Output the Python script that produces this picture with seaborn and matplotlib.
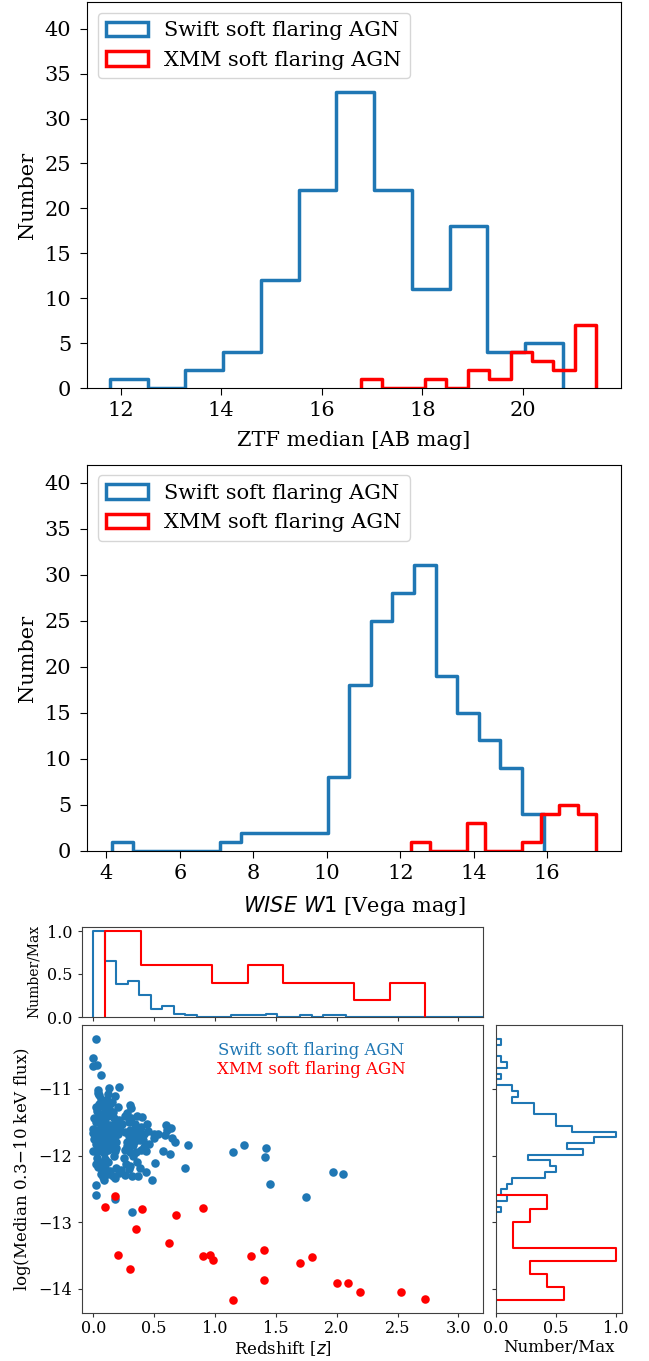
import numpy as np
import pandas as pd
import matplotlib
matplotlib.use("Agg")
import matplotlib.pyplot as plt
from matplotlib.patches import Patch
import seaborn as sns

plt.rcParams["font.family"] = ["DejaVu Serif"]
plt.rcParams["mathtext.fontset"] = "dejavusans"

BLUE = "#1f77b4"
RED = "#ff0000"
LAB_SWIFT = "Swift soft flaring AGN"
LAB_XMM = "XMM soft flaring AGN"

# ---------------- data ----------------
# Panel 1: ZTF median magnitude histograms
ztf_swift_range = (11.79, 20.79)
ztf_swift_counts = [1, 0, 2, 4, 12, 22, 33, 22, 11, 18, 4, 5]
ztf_xmm_range = (16.78, 21.45)
ztf_xmm_counts = [1, 0, 0, 1, 0, 2, 1, 4, 3, 2, 7]

# Panel 2: WISE W1 histograms
w1_swift_range = (4.14, 15.90)
w1_swift_counts = [1, 0, 0, 0, 0, 1, 2, 2, 2, 2, 8, 18, 25, 28, 31, 19, 15, 12, 9, 4]
w1_xmm_range = (12.30, 17.34)
w1_xmm_counts = [1, 0, 0, 3, 0, 0, 1, 4, 5, 4]

# Bottom: redshift marginal histograms
z_swift_range = (0.0, 3.3075)
z_swift_counts = [55, 36, 21, 23, 14, 5, 7, 2, 1, 0, 0, 0, 1, 1, 1, 2, 0, 0, 1, 0,
                  1, 1, 0, 0, 0, 0, 0, 0, 0, 0, 0, 0, 0, 0, 0]
z_xmm_range = (0.10, 2.728)
z_xmm_counts = [5, 3, 3, 2, 3, 2, 2, 1, 2]

# Bottom: flux marginal histograms (ascending flux)
f_swift_range = (-12.855, -10.25)
f_swift_counts = [1, 0, 2, 1, 2, 3, 9, 11, 10, 6, 16, 13, 18, 22, 14, 11, 11, 7, 7, 3,
                  4, 3, 0, 1, 0, 2, 1, 0, 0, 1]
f_xmm_range = (-14.17, -12.60)
f_xmm_counts = [4, 3, 2, 7, 1, 1, 2, 3]

# Bottom: scatter points
z_xmm = [0.10, 0.18, 0.20, 0.30, 0.35, 0.40, 0.62, 0.68, 0.90, 0.90, 0.96, 0.98,
         1.15, 1.30, 1.40, 1.40, 1.70, 1.80, 2.00, 2.09, 2.19, 2.53, 2.73]
f_xmm = [-12.78, -12.61, -13.50, -13.70, -13.11, -12.81, -13.32, -12.89, -12.79,
         -13.51, -13.50, -13.57, -14.17, -13.51, -13.42, -13.87, -13.62, -13.53,
         -13.91, -13.91, -14.05, -14.05, -14.15]

z_swift = [
    0.02, 0.00, 0.00, 0.03, 0.06,
    0.13, 0.21, 0.04,
    0.05, 0.18, 0.04, 0.12,
    0.11, 0.06, 0.15,
    0.30, 0.31, 0.02, 0.08, 0.14, 0.20, 0.05,
    0.03, 0.10, 0.16, 0.28, 0.07, 0.13,
    0.40, 0.36, 0.01, 0.05, 0.09, 0.12, 0.17, 0.21, 0.26, 0.31,
    0.44, 0.60, 0.02, 0.06, 0.10, 0.14, 0.19, 0.24, 0.29, 0.34, 0.08,
    0.00, 0.03, 0.06, 0.09, 0.12, 0.15, 0.18, 0.22, 0.64, 0.30, 0.35, 0.39, 0.45, 0.61,
    0.00, 0.02, 0.04, 0.06, 0.08, 0.07, 0.12, 0.14, 0.16, 0.18, 0.20, 0.53, 0.26, 0.29,
    0.32, 0.35, 0.38, 0.42, 0.50, 0.59, 0.03, 0.11,
    0.50, 0.65, 0.67, 0.01, 0.03, 0.05, 0.07, 0.09, 0.085, 0.13, 0.16, 0.19, 0.41, 0.28,
    0.31, 0.34, 0.38,
    0.78, 1.24, 0.42, 0.02, 0.05, 0.08, 0.12, 0.15, 0.19, 0.46, 0.28, 0.33, 1.42,
    1.15, 0.57, 0.43, 0.63, 0.00, 0.03, 0.06, 0.09, 0.12, 0.18, 0.26, 0.30, 0.35, 0.39,
    1.41, 0.03, 0.10, 0.17, 0.25, 0.33,
    0.51, 0.02, 0.05, 0.08, 0.12, 0.27, 0.30, 0.36,
    0.75, 0.38, 0.43, 0.04, 0.07, 0.10, 0.14, 0.19, 0.23, 0.29, 1.97,
    2.05, 0.37, 0.06, 0.08, 0.21, 0.16, 0.12, 0.26, 0.32,
    0.48, 0.18, 0.09,
    1.45, 0.02,
    0.02,
    1.75, 0.18,
    0.32,
]
f_swift = [
    -10.25, -10.53, -10.65, -10.64, -10.79,
    -10.98, -10.97, -11.02,
    -11.09, -11.10, -11.06, -11.08,
    -11.17, -11.15, -11.19,
    -11.24, -11.28, -11.27, -11.25, -11.23, -11.27, -11.22,
    -11.33, -11.31, -11.35, -11.36, -11.37, -11.30,
    -11.42, -11.40, -11.44, -11.41, -11.45, -11.40, -11.43, -11.46, -11.41, -11.44,
    -11.53, -11.54, -11.50, -11.52, -11.49, -11.54, -11.51, -11.53, -11.50, -11.52, -11.48,
    -11.60, -11.62, -11.58, -11.61, -11.57, -11.63, -11.59, -11.61, -11.58, -11.62, -11.60,
    -11.57, -11.63, -11.61,
    -11.66, -11.70, -11.65, -11.69, -11.67, -11.71, -11.66, -11.69, -11.65, -11.70, -11.67,
    -11.68, -11.65, -11.70, -11.67, -11.69, -11.66, -11.67, -11.67, -11.69, -11.68, -11.68,
    -11.73, -11.74, -11.80, -11.75, -11.78, -11.74, -11.79, -11.76, -11.73, -11.78, -11.75,
    -11.79, -11.77, -11.80, -11.75, -11.78, -11.76,
    -11.84, -11.84, -11.87, -11.83, -11.87, -11.82, -11.86, -11.84, -11.88, -11.83, -11.86,
    -11.84, -11.89,
    -11.94, -11.93, -11.93, -11.97, -11.93, -11.95, -11.92, -11.96, -11.91, -11.93, -11.92,
    -11.95, -11.94, -11.91,
    -12.02, -12.03, -12.05, -12.01, -12.04, -12.00,
    -12.11, -12.12, -12.09, -12.14, -12.10, -12.12, -12.15, -12.10,
    -12.18, -12.19, -12.24, -12.17, -12.21, -12.19, -12.23, -12.18, -12.22, -12.20, -12.24,
    -12.27, -12.30, -12.27, -12.32, -12.26, -12.30, -12.28, -12.29, -12.31,
    -12.37, -12.34, -12.36,
    -12.43, -12.44,
    -12.59,
    -12.63, -12.65,
    -12.85,
]


def step_hist(ax, rng, counts, color, lw, orient="x", norm=False):
    counts = np.asarray(counts, dtype=float)
    if norm:
        counts = counts / counts.max()
    edges = np.linspace(rng[0], rng[1], len(counts) + 1)
    eps = (edges[1] - edges[0]) * 1e-6
    edges_p = [float(edges[0] - eps)] + [float(e) for e in edges] + [float(edges[-1] + eps)]
    centers = 0.5 * (edges[:-1] + edges[1:])
    df = pd.DataFrame({"v": centers, "w": counts})
    kw = dict(data=df, weights="w", bins=edges_p, element="step", fill=False,
              color=color, linewidth=lw, ax=ax)
    if orient == "x":
        sns.histplot(x="v", **kw)
    else:
        sns.histplot(y="v", **kw)


W, H = 649, 1361
fig = plt.figure(figsize=(W / 100, H / 100), dpi=100)


def px_axes(l, t, r, b):
    return fig.add_axes([l / W, 1 - b / H, (r - l) / W, (b - t) / H])


ax1 = px_axes(87.3, 2.5, 620.7, 388.3)
ax2 = px_axes(87.3, 465.0, 620.7, 851.0)
ax_top = px_axes(81.7, 926.7, 483.3, 1017.0)
ax_sc = px_axes(81.7, 1025.0, 483.3, 1312.7)
ax_rt = px_axes(495.7, 1025.0, 621.7, 1312.7)

FS = 15
# ---- Panel 1 ----
step_hist(ax1, ztf_swift_range, ztf_swift_counts, BLUE, 2.5)
step_hist(ax1, ztf_xmm_range, ztf_xmm_counts, RED, 2.5)
ax1.set_xlim(11.34, 21.94)
ax1.set_ylim(0, 42.9)
ax1.set_xticks([12, 14, 16, 18, 20])
ax1.set_yticks([0, 5, 10, 15, 20, 25, 30, 35, 40])
ax1.set_xlabel("ZTF median [AB mag]", fontsize=FS, labelpad=8)
ax1.set_ylabel("Number", fontsize=FS, labelpad=5.5)

# ---- Panel 2 ----
step_hist(ax2, w1_swift_range, w1_swift_counts, BLUE, 2.5)
step_hist(ax2, w1_xmm_range, w1_xmm_counts, RED, 2.5)
ax2.set_xlim(3.48, 18.0)
ax2.set_ylim(0, 41.9)
ax2.set_xticks([4, 6, 8, 10, 12, 14, 16])
ax2.set_yticks([0, 5, 10, 15, 20, 25, 30, 35, 40])
ax2.set_xlabel(r"$\it{WISE\ W1}$ [Vega mag]", fontsize=FS, labelpad=8)
ax2.set_ylabel("Number", fontsize=FS, labelpad=5.5)

for ax in (ax1, ax2):
    ax.tick_params(labelsize=FS, colors="black", width=0.8)
    ax.tick_params(axis="x", length=4.8, pad=4.5)
    ax.tick_params(axis="y", length=5.2, pad=6.5)
    for s in ax.spines.values():
        s.set_color("black")
        s.set_linewidth(0.8)
    handles = [Patch(facecolor="none", edgecolor=BLUE, linewidth=2.5, label=LAB_SWIFT),
               Patch(facecolor="none", edgecolor=RED, linewidth=2.5, label=LAB_XMM)]
    ax.legend(handles=handles, loc="upper left", fontsize=FS)

# ---- Bottom block ----
FSB = 12
step_hist(ax_top, z_swift_range, z_swift_counts, BLUE, 1.5, norm=True)
step_hist(ax_top, z_xmm_range, z_xmm_counts, RED, 1.5, norm=True)
ax_top.set_xlim(-0.095, 3.205)
ax_top.set_ylim(0, 1.05)
ax_top.set_xticks([0, 0.5, 1.0, 1.5, 2.0, 2.5, 3.0])
ax_top.set_yticks([0, 0.5, 1.0])
ax_top.tick_params(labelbottom=False)
ax_top.set_xlabel("")
ax_top.set_ylabel("Number/Max", fontsize=10)

sns.scatterplot(x=z_swift, y=f_swift, color=BLUE, s=38, linewidth=0, ax=ax_sc)
sns.scatterplot(x=z_xmm, y=f_xmm, color=RED, s=38, linewidth=0, ax=ax_sc)
ax_sc.set_xlim(-0.095, 3.205)
ax_sc.set_ylim(-14.36, -10.04)
ax_sc.set_xticks([0, 0.5, 1.0, 1.5, 2.0, 2.5, 3.0])
ax_sc.set_yticks([-14, -13, -12, -11])
ax_sc.set_xlabel(r"Redshift [$z$]", fontsize=FSB, labelpad=1.5)
ax_sc.set_ylabel(r"log(Median 0.3$-$10 keV flux)", fontsize=FSB)
ax_sc.text(0.571, 0.913, LAB_SWIFT, color=BLUE, fontsize=FSB, ha="center", va="center",
           transform=ax_sc.transAxes)
ax_sc.text(0.571, 0.844, LAB_XMM, color=RED, fontsize=FSB, ha="center", va="center",
           transform=ax_sc.transAxes)

step_hist(ax_rt, f_swift_range, f_swift_counts, BLUE, 1.5, orient="y", norm=True)
step_hist(ax_rt, f_xmm_range, f_xmm_counts, RED, 1.5, orient="y", norm=True)
ax_rt.set_ylim(-14.36, -10.04)
ax_rt.set_xlim(0, 1.05)
ax_rt.set_xticks([0, 0.5, 1.0])
ax_rt.set_yticks([-14, -13, -12, -11])
ax_rt.tick_params(labelleft=False)
ax_rt.set_ylabel("")
ax_rt.set_xlabel("Number/Max", fontsize=FSB, labelpad=1.5)

for ax in (ax_top, ax_sc, ax_rt):
    ax.tick_params(labelsize=11.5, direction="out", length=3.2, width=0.8, colors="0.2",
                   labelcolor="black")
    ax.tick_params(axis="x", pad=2.0)
    for s in ax.spines.values():
        s.set_color("0.25")
        s.set_linewidth(0.8)

fig.savefig("out.png", dpi=100)
